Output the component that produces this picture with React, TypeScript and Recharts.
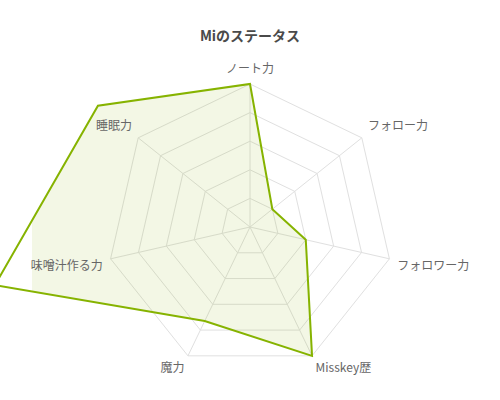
import { RadarChart, Radar, PolarGrid, PolarAngleAxis, PolarRadiusAxis } from "recharts"

const stats = ["ノート力", "フォロー力", "フォロワー力", "Misskey歴", "魔力", "味噌汁作る力", "睡眠力"]
const values = [100, 20, 40, 100, 73, 183, 136]

const data = stats.map((name, i) => ({ name, value: values[i] }))

const FONT = "'Noto Sans CJK JP', 'Noto Sans', sans-serif"

const AngleTick = ({ x, y, cx, cy, payload }: any) => {
  const dx = x - cx
  const dy = y - cy
  const anchor = Math.abs(dx) < 1 ? "middle" : dx > 0 ? "start" : "end"
  // labels above the centre sit on the point, labels below hang from it
  const shift = dy < 0 ? -6 : 6
  return (
    <text x={x} y={y + shift} textAnchor={anchor} dominantBaseline="middle" fontSize={12} fill="#666" fontFamily={FONT}>
      {payload.value}
    </text>
  )
}

const StatShape = ({ points }: any) => {
  const pts = (points || []).map((p: any) => `${p.x},${p.y}`).join(" ")
  return (
    <g>
      <defs>
        <clipPath id="statFillClip">
          <rect x={32} y={0} width={468} height={400} />
        </clipPath>
      </defs>
      <polygon points={pts} fill="#86b300" fillOpacity={0.1} stroke="none" clipPath="url(#statFillClip)" />
      <polygon points={pts} fill="none" stroke="#86b300" strokeWidth={2} strokeLinejoin="miter" />
    </g>
  )
}

export default function App() {
  return (
    <div style={{ position: "absolute", left: 0, top: 0, width: 500, height: 400, background: "#fff" }}>
      <div
        style={{
          position: "absolute",
          top: 25,
          left: 0,
          width: 500,
          textAlign: "center",
          fontFamily: FONT,
          fontWeight: "bold",
          fontSize: 14,
          color: "#4a4a4a",
          lineHeight: "20px",
        }}
      >
        Miのステータス
      </div>
      <RadarChart width={500} height={400} data={data} cx={250} cy={227} outerRadius={143} margin={{ top: 0, right: 0, bottom: 0, left: 0 }}>
        <PolarGrid gridType="polygon" stroke="#e0e0e0" />
        <PolarAngleAxis dataKey="name" tick={<AngleTick />} tickLine={false} axisLine={false} />
        <PolarRadiusAxis domain={[0, 100]} allowDataOverflow tickCount={6} tick={false} axisLine={false} />
        <Radar dataKey="value" shape={<StatShape />} isAnimationActive={false} dot={false} />
      </RadarChart>
    </div>
  )
}
